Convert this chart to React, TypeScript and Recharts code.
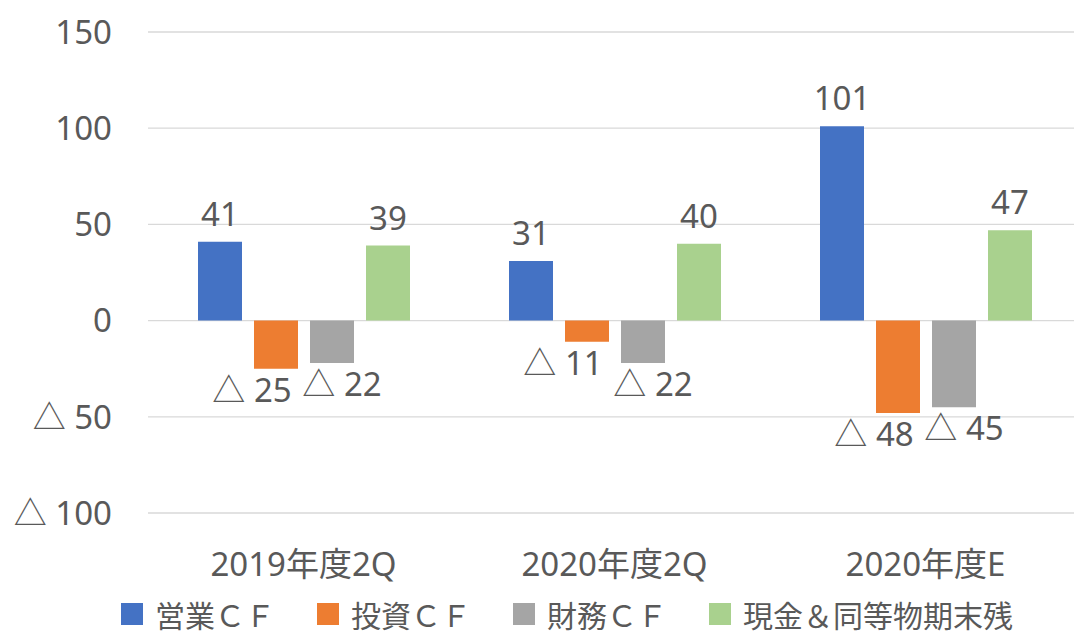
import React from "react";
import {
  BarChart,
  Bar,
  XAxis,
  YAxis,
  CartesianGrid,
  Legend,
  LabelList,
} from "recharts";

const periods = ["2019年度2Q", "2020年度2Q", "2020年度E"];
const operatingCF = [41, 31, 101];
const investingCF = [-25, -11, -48];
const financingCF = [-22, -22, -45];
const cashBalance = [39, 40, 47];
const yTicks = [-100, -50, 0, 50, 100, 150];

const seriesNames = ["営業ＣＦ", "投資ＣＦ", "財務ＣＦ", "現金＆同等物期末残"];
const seriesColors = ["#4472C4", "#ED7D31", "#A5A5A5", "#A9D18E"];
// small sideways nudge of the negative labels so neighbours don't collide
const labelNudge = [0, -24, 10, 0];

const data = periods.map((p, i) => ({
  name: p,
  s0: operatingCF[i],
  s1: investingCF[i],
  s2: financingCF[i],
  s3: cashBalance[i],
}));

const FONT = "'Noto Sans', 'Noto Sans CJK JP', sans-serif";
const TEXT = "#595959";

const fmt = (v: number) => (v < 0 ? `△ ${-v}` : `${v}`);

const makeLabel = (si: number) => (props: any) => {
  const vb = props.viewBox || props;
  const x = Number(vb.x);
  const y = Number(vb.y);
  const w = Number(vb.width);
  const h = Number(vb.height);
  const v = Number(props.value);
  const top = Math.min(y, y + h);
  const bottom = Math.max(y, y + h);
  const cx = x + w / 2 + (v < 0 ? labelNudge[si] : 0);
  const ty = v >= 0 ? top - 16 : bottom + 33;
  return (
    <text
      x={cx}
      y={ty}
      textAnchor="middle"
      fill={TEXT}
      fontSize={33}
      fontFamily={FONT}
    >
      {fmt(v)}
    </text>
  );
};

const renderLegend = () => (
  <div
    style={{
      height: 44,
      display: "flex",
      alignItems: "center",
      paddingLeft: 121,
      fontFamily: FONT,
      fontSize: 30,
      color: TEXT,
    }}
  >
    {seriesNames.map((n, i) => (
      <div
        key={n}
        style={{ display: "flex", alignItems: "center", marginRight: 42 }}
      >
        <span
          style={{
            display: "inline-block",
            width: 22,
            height: 22,
            background: seriesColors[i],
            marginRight: 12,
          }}
        />
        <span style={{ whiteSpace: "nowrap" }}>{n}</span>
      </div>
    ))}
  </div>
);

export default function App() {
  return (
    <div
      style={{
        position: "absolute",
        left: 0,
        top: 0,
        width: 1074,
        height: 636,
        overflow: "hidden",
        background: "#fff",
      }}
    >
      <BarChart
        width={1081}
        height={636}
        data={data}
        margin={{ top: 32, right: 0, left: 0, bottom: 0 }}
        barSize={44}
        barGap={12}
      >
        <CartesianGrid vertical={false} stroke="#D9D9D9" strokeWidth={1.3} />
        <XAxis
          dataKey="name"
          axisLine={false}
          tickLine={false}
          height={79}
          tickMargin={34}
          tick={{ fill: TEXT, fontSize: 33, fontFamily: FONT }}
        />
        <YAxis
          domain={[-100, 150]}
          ticks={yTicks}
          axisLine={false}
          tickLine={false}
          width={148}
          tickMargin={30}
          tickFormatter={fmt}
          tick={{ fill: TEXT, fontSize: 33, fontFamily: FONT }}
        />
        <Legend
          verticalAlign="bottom"
          content={renderLegend}
          wrapperStyle={{ height: 44 }}
        />
        {seriesNames.map((n, i) => (
          <Bar
            key={n}
            dataKey={`s${i}`}
            name={n}
            fill={seriesColors[i]}
            isAnimationActive={false}
          >
            <LabelList dataKey={`s${i}`} content={makeLabel(i)} />
          </Bar>
        ))}
      </BarChart>
    </div>
  );
}
